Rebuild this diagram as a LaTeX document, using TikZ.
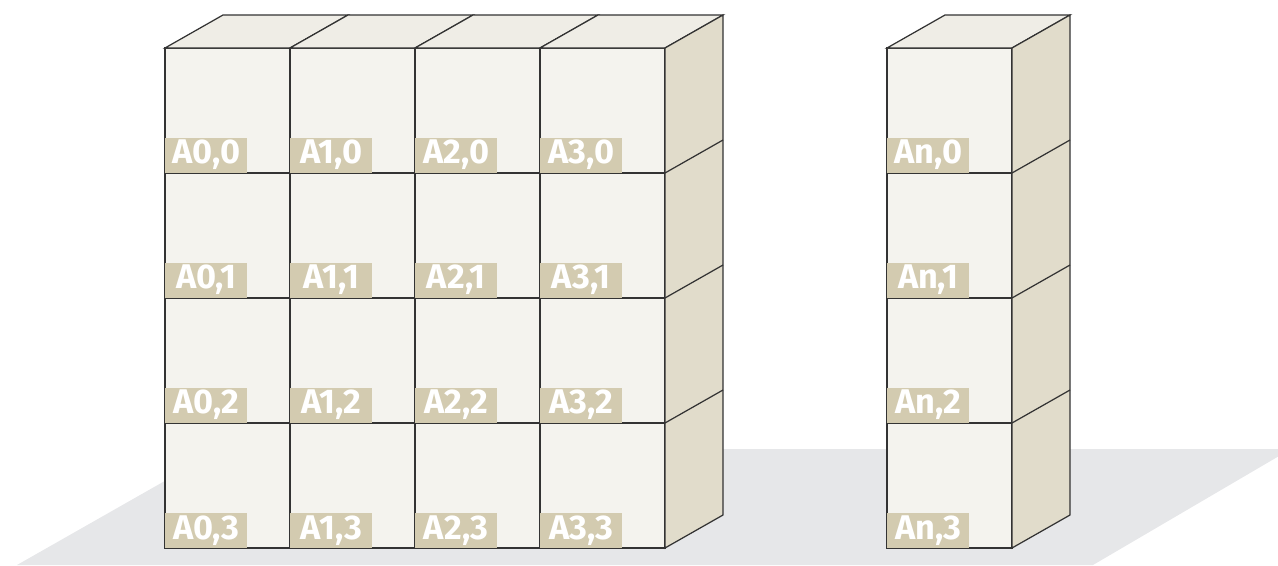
\documentclass[tikz,border=0pt]{standalone}
\usepackage{fontspec}
\setmainfont{Fira Sans}
\usepackage{tikz}

\definecolor{floorgray}{HTML}{E6E7E9}
\definecolor{frontface}{HTML}{F4F3EE}
\definecolor{topface}{HTML}{EFEDE6}
\definecolor{sideface}{HTML}{E1DCCB}
\definecolor{tagtan}{HTML}{D3CBB0}
\definecolor{edge}{HTML}{333333}

\tikzset{
  cubeline/.style={draw=edge, line width=0.7pt, line join=miter},
  celltag/.style={anchor=south west, fill=tagtan, text=white, inner sep=0pt,
    minimum width=1.64cm, minimum height=0.7cm,
    font=\fontsize{19.5}{20}\selectfont\bfseries}
}

\begin{document}
\begin{tikzpicture}[x=0.02cm, y=-0.02cm]
  \useasboundingbox (0,0) rectangle (1278,565);
  % floor
  \begin{scope}
    \clip (0,0) rectangle (1278,565);
    \fill[floorgray] (17,565) -- (221,449) -- (1291,449) -- (1093,565) -- cycle;
  \end{scope}
  % left block: front faces
  \foreach \i in {0,...,3}
    \foreach \j in {0,...,3}
      \filldraw[cubeline, fill=frontface] (165+125*\i,48+125*\j) rectangle ++(125,125);
  % left block: top
  \foreach \i in {0,...,3}
    \filldraw[cubeline, fill=topface] (165+125*\i,48) -- ++(58,-33) -- ++(125,0) -- ++(-58,33) -- cycle;
  % left block: side
  \filldraw[cubeline, fill=sideface] (665,48) -- (723,15) -- (723,515) -- (665,548) -- cycle;
  \foreach \j in {1,2,3}
    \draw[cubeline] (665,48+125*\j) -- ++(58,-33);
  % right column
  \foreach \j in {0,...,3}
    \filldraw[cubeline, fill=frontface] (887,48+125*\j) rectangle ++(125,125);
  \filldraw[cubeline, fill=topface] (887,48) -- (945,15) -- (1070,15) -- (1012,48) -- cycle;
  \filldraw[cubeline, fill=sideface] (1012,48) -- (1070,15) -- (1070,515) -- (1012,548) -- cycle;
  \foreach \j in {1,2,3}
    \draw[cubeline] (1012,48+125*\j) -- ++(58,-33);
  % tags
  \foreach \i in {0,...,3}
    \foreach \j in {0,...,3}
      \node[celltag] (tag-\i-\j) at (165+125*\i,173+125*\j) {A\i,\j};
  \foreach \j in {0,...,3}
    \node[celltag] (tag-n-\j) at (887,173+125*\j) {An,\j};
\end{tikzpicture}
\end{document}
